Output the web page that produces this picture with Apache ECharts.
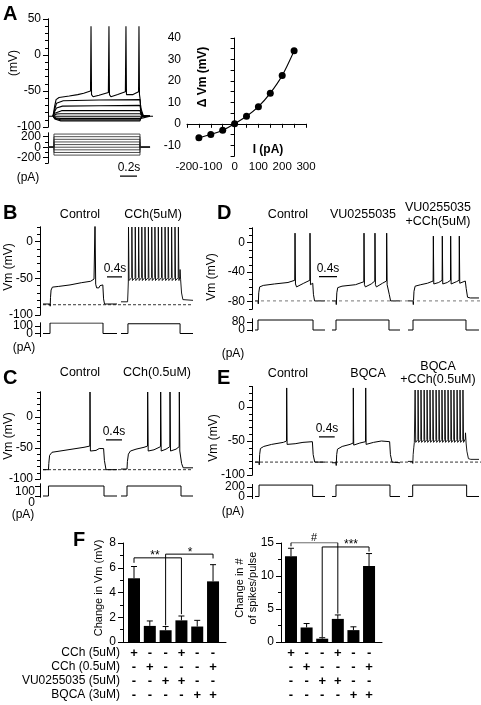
<!DOCTYPE html>
<html><head><meta charset="utf-8">
<script src="https://cdn.jsdelivr.net/npm/echarts@6/dist/echarts.min.js"></script>
<style>html,body{margin:0;padding:0;background:#fff}#c{width:481px;height:705px}</style>
</head><body><div id="c"></div>
<script>
// ---------------- DATA ----------------
// Panel A: voltage family (time ms, mV)
const trA_m150 = [[59,-85],[70,-85],[80,-89],[100,-91],[150,-91.5],[1082,-91.5],[1092,-88],[1110,-85.5],[1200,-85]];
const trA_m100 = [[59,-85],[70,-85],[80,-88],[100,-89.5],[150,-90],[1082,-90],[1092,-87.5],[1110,-85.3],[1200,-85]];
const trA_m50  = [[59,-85],[70,-85],[80,-86.8],[100,-87.7],[150,-88],[1082,-88],[1092,-86.5],[1110,-85.2],[1200,-85]];
const trA_0    = [[0,-85],[1235,-85]];
const trA_p50  = [[59,-85],[70,-85],[80,-83],[100,-82],[150,-81.5],[1082,-81.5],[1092,-83.5],[1110,-84.7],[1200,-85]];
const trA_p100 = [[59,-85],[70,-85],[80,-81],[100,-78.5],[160,-77.3],[1082,-77],[1092,-81.5],[1115,-84.5],[1200,-85]];
const trA_p150 = [[59,-85],[70,-85],[80,-78],[100,-73.5],[170,-71],[600,-70.5],[1082,-70],[1092,-78],[1120,-84.3],[1200,-85]];
const trA_p200 = [[59,-85],[70,-85],[80,-75],[100,-67],[180,-63.5],[600,-62.5],[1082,-62],[1092,-74],[1120,-84],[1200,-85]];
const trA_p250 = [[59,-85],[70,-85],[80,-70],[95,-62],[130,-59],[250,-57],[350,-55],[420,-53],[500,-50],[506,40],[512,-55],[530,-58],[600,-56],[710,-52],[717,40],[723,-55],[740,-58],[820,-55],[910,-51],[917,40],[923,-55],[940,-57],[1000,-55],[1065,-51],[1070,40],[1076,-55],[1082,-60],[1095,-80],[1110,-85],[1200,-85]];
const ampA = [-150,-100,-50,0,50,100,150,200,250];      // pA steps
const stepA = [70,1082,1200];                             // on, off, end (ms)
// IV curve
const ivCurrent = [-150,-100,-50,0,50,100,150,200,250];
const ivDelta   = [-6.5,-5,-3,0,3.5,8,14.3,22.5,34];

// Panel B
const trB_ctrl = [[80,-85],[265,-85],[272,-88],[280,-76],[295,-66],[330,-62],[500,-61],[800,-59],[1100,-56],[1350,-54],[1440,-51],[1467,26],[1485,-58],[1510,-63],[1570,-63],[1600,-60],[1640,-58],[1675,-59],[1695,-78],[1720,-85],[2053,-85]];
const trB_cch = [[2160,-82],[2335,-82],[2345,-70],[2355,-55],[2360,20],[2375,-53],[2445,-49],[2450,20],[2465,-53],[2535,-49],[2540,20],[2555,-53],[2625,-49],[2630,20],[2645,-53],[2710,-49],[2715,20],[2730,-53],[2795,-49],[2800,20],[2815,-53],[2885,-49],[2890,20],[2905,-53],[2975,-49],[2980,20],[2995,-53],[3060,-49],[3065,20],[3080,-53],[3150,-49],[3155,20],[3170,-53],[3240,-49],[3245,20],[3260,-53],[3330,-49],[3335,20],[3350,-53],[3415,-49],[3420,20],[3435,-53],[3505,-49],[3510,20],[3525,-53],[3595,-49],[3600,20],[3615,-53],[3685,-49],[3690,20],[3705,-53],[3728,-48],[3735,-38],[3750,-52],[3775,-70],[3810,-79],[3860,-80],[4080,-80]];
const iB_ctrl = [[80,0],[267,0],[267,140],[1680,140],[1680,0],[2053,0]];
const iB_cch  = [[2160,0],[2345,0],[2345,130],[3735,130],[3735,0],[4080,0]];
const restB = [[80,-86],[4080,-86]];
const barB = [[1787,-48],[2187,-48]];

// Panel C
const trC_ctrl = [[75,-85],[212,-85],[220,-75],[240,-62],[300,-57],[500,-55],[800,-52],[1100,-49],[1245,-47],[1250,40],[1260,-55],[1290,-58],[1400,-54],[1480,-51],[1590,-51],[1610,-70],[1650,-85],[1925,-85]];
const trC_cch = [[2025,-84],[2175,-84],[2185,-72],[2210,-60],[2260,-55],[2400,-52],[2600,-49],[2688,-47],[2692,40],[2705,-55],[2730,-58],[2850,-53],[3012,-48],[3017,40],[3030,-55],[3055,-58],[3150,-52],[3246,-48],[3250,40],[3263,-55],[3290,-57],[3400,-52],[3479,-48],[3483,40],[3495,-55],[3520,-55],[3540,-75],[3580,-82],[3825,-82]];
const iC_ctrl = [[75,0],[212,0],[212,100],[1600,100],[1600,0],[1925,0]];
const iC_cch  = [[2025,0],[2175,0],[2175,100],[3525,100],[3525,0],[3825,0]];
const restC = [[75,-85],[3825,-85]];
const barC = [[1650,-37],[2050,-37]];

// Panel D
const trD_ctrl = [[67,-79],[133,-79],[140,-83],[150,-68],[170,-60],[250,-58],[500,-56],[800,-54],[950,-51],[956,13],[966,-56],[990,-60],[1150,-55],[1285,-51],[1289,13],[1299,-57],[1320,-58],[1350,-55],[1365,-70],[1390,-79],[1622,-79]];
const trD_vu = [[1778,-79],[1867,-79],[1873,-84],[1885,-68],[1905,-61],[2000,-59],[2300,-57],[2485,-53],[2489,13],[2499,-57],[2520,-60],[2650,-56],[2729,-52],[2733,13],[2743,-57],[2765,-60],[2900,-55],[2989,-52],[2993,13],[3003,-57],[3030,-57],[3050,-70],[3080,-79],[3289,-79]];
const trD_vucch = [[3467,-79],[3578,-79],[3585,-84],[3600,-66],[3625,-59],[3750,-57],[3900,-55],[4025,-52],[4030,9],[4040,-56],[4060,-58],[4150,-54],[4225,-51],[4229,9],[4239,-56],[4260,-58],[4340,-54],[4411,-51],[4415,9],[4425,-56],[4445,-57],[4540,-53],[4603,-51],[4607,9],[4617,-55],[4640,-55],[4740,-52],[4760,-62],[4790,-74],[4850,-75],[5044,-75]];
const iD_ctrl  = [[67,0],[133,0],[133,100],[1356,100],[1356,0],[1622,0]];
const iD_vu    = [[1778,0],[1867,0],[1867,100],[3044,100],[3044,0],[3289,0]];
const iD_vucch = [[3467,0],[3578,0],[3578,100],[4755,100],[4755,0],[5044,0]];
const restD = [[67,-79],[5089,-79]];
const barD = [[1489,-46],[1889,-46]];

// Panel E
const trE_ctrl = [[77,-81],[179,-81],[185,-85],[195,-70],[215,-61],[300,-58],[500,-55],[800,-52],[880,-50],[885,28],[895,-55],[920,-56],[1100,-54],[1300,-52],[1540,-51],[1560,-70],[1600,-81],[1862,-81]];
const trE_bqca = [[2040,-82],[2142,-82],[2148,-86],[2160,-70],[2180,-62],[2300,-58],[2500,-55],[2580,-53],[2584,28],[2594,-56],[2615,-57],[2750,-53],[2895,-51],[2900,28],[2910,-55],[2935,-56],[3100,-52],[3300,-50],[3510,-51],[3530,-70],[3570,-81],[3774,-82]];
const trE_bqcch = [[3978,-80],[4090,-80],[4100,-83],[4110,-70],[4125,-60],[4140,-52],[4160,25],[4175,-52],[4230,-48],[4235,25],[4250,-52],[4305,-48],[4310,25],[4325,-52],[4385,-48],[4390,25],[4405,-52],[4460,-48],[4465,25],[4480,-52],[4535,-48],[4540,25],[4555,-52],[4610,-48],[4615,25],[4630,-52],[4690,-48],[4695,25],[4710,-52],[4765,-48],[4770,25],[4785,-52],[4840,-48],[4845,25],[4860,-52],[4915,-48],[4920,25],[4935,-52],[4995,-48],[5000,25],[5015,-52],[5070,-48],[5075,25],[5090,-52],[5145,-48],[5150,25],[5165,-52],[5225,-48],[5230,25],[5245,-52],[5300,-48],[5305,25],[5320,-52],[5375,-48],[5380,25],[5395,-52],[5440,-47],[5445,-38],[5460,-53],[5480,-65],[5520,-76],[5580,-77],[5789,-77]];
const iE_ctrl  = [[77,0],[179,0],[179,240],[1548,240],[1548,0],[1862,0]];
const iE_bqca  = [[2040,0],[2142,0],[2142,240],[3519,240],[3519,0],[3774,0]];
const iE_bqcch = [[3978,0],[4098,0],[4098,240],[5474,240],[5474,0],[5789,0]];
const restE = [[77,-81],[5840,-81]];
const barE = [[1709,-44],[2109,-44]];
const barA = [[847,-550],[1047,-550]];

// Panel F
const vmMean  = [5.15,1.3,0.95,1.75,1.25,4.9];
const vmSem   = [0.95,0.4,0.3,0.35,0.5,1.35];
const spkMean = [13.0,2.2,0.5,3.5,1.8,11.5];
const spkSem  = [1.2,0.6,0.15,0.6,0.5,1.9];
const rowCCh5  = ['+','-','-','+','-','-'];
const rowCCh05 = ['-','+','-','-','-','+'];
const rowVU    = ['-','-','+','+','-','-'];
const rowBQCA  = ['-','-','-','-','+','+'];
const rowNames = ['CCh (5uM)','CCh (0.5uM)','VU0255035 (5uM)','BQCA (3uM)'];
const sigVm1 = [[1,6.4],[1,6.8],[4,6.8],[4,2.25]];
const sigVm2 = [[3,1.35],[3,7.1],[6,7.1],[6,6.75]];
const sigSp1 = [[1,14.5],[1,15.05],[4,15.05],[4,4.3]];
const sigSp2 = [[3,0.75],[3,14.4],[6,14.4],[6,13.7]];

// tick values
const tkA_Vmaj=[-100,-50,0,50], tkA_Vmin=[-100,-90,-80,-70,-60,-50,-40,-30,-20,-10,0,10,20,30,40,50];
const tkA_Imaj=[-200,0,200], tkA_Imin=[-300,-200,-100,0,100,200];
const tkIVx=[-200,-150,-100,-50,0,50,100,150,200,250,300], lbIVx=[-200,-100,0,100,200,300];
const tkIVy=[-15,-10,-5,0,5,10,15,20,25,30,35,40], lbIVy=[-10,0,10,20,30,40];
const tkB_Vmaj=[-100,-50,0], tkB_Vmin=[-100,-90,-80,-70,-60,-50,-40,-30,-20,-10,0,10,20];
const tkB_I=[0,100];
const tkC_Vmaj=[-100,-50,0], tkC_Vmin=[-100,-90,-80,-70,-60,-50,-40,-30,-20,-10,0,10,20,30,40];
const tkC_I=[0,100];
const tkD_Vmaj=[-80,-40,0], tkD_Vmin=[-90,-80,-70,-60,-50,-40,-30,-20,-10,0,10,20];
const tkD_I=[0,80];
const tkE_Vmaj=[-100,-50,0], tkE_Vmin=[-100,-90,-80,-70,-60,-50,-40,-30,-20,-10,0,10,20,30];
const tkE_I=[0,200];

// ---------------- BUILD ----------------
const FF = '"Liberation Sans", Arial, Helvetica, sans-serif';
const grids=[], xAxes=[], yAxes=[], series=[], graphic=[];
const AX = {color:'#000', width:1};
const LBL = {fontSize:12,color:'#000',fontFamily:FF,showMinLabel:true,showMaxLabel:true,hideOverlap:false};
function grid(l,t,w,h){grids.push({left:l,top:t,width:w,height:h,containLabel:false});return grids.length-1;}
function xAx(g,min,max,o){xAxes.push(Object.assign({gridIndex:g,type:'value',min,max,show:false,splitLine:{show:false}},o||{}));return xAxes.length-1;}
function yAx(g,min,max,o){yAxes.push(Object.assign({gridIndex:g,type:'value',min,max,position:'left',
  axisLine:{show:true,onZero:false,lineStyle:AX},axisTick:{show:false},axisLabel:{show:false},splitLine:{show:false}},o||{}));return yAxes.length-1;}
// minor-tick axis + major-tick axis; labels either on the major axis or one overlaid axis per label (crowded axes)
function ticked(g,min,max,minor,major,labelMode){
  yAx(g,min,max,{axisTick:{show:true,customValues:minor,length:3,lineStyle:AX}});
  const main=yAx(g,min,max,{axisTick:{show:true,customValues:major,length:5,lineStyle:AX},
    axisLabel:Object.assign({},LBL,{show:labelMode===undefined,customValues:major,margin:7})});
  if(labelMode==='split') major.forEach(v=>yAx(g,min,max,{axisLine:{show:false,onZero:false},
    axisLabel:Object.assign({},LBL,{show:true,customValues:[v],margin:7})}));
  return main;
}
function ln(xi,yi,data,o){series.push(Object.assign({type:'line',xAxisIndex:xi,yAxisIndex:yi,data,symbol:'none',
  lineStyle:{color:'#000',width:1},silent:true,animation:false,z:3},o||{}));}
function txt(x,y,text,size,o){o=o||{};graphic.push({type:'text',x,y,rotation:o.rot?Math.PI/2:0,silent:true,
  style:{text,fill:'#000',fontSize:size,fontFamily:FF,fontWeight:o.bold?'bold':'normal',
  align:o.align||'center',verticalAlign:'middle',lineHeight:o.lh||size}});}

// A voltage
let g=grid(48,19,105,108); let xi=xAx(g,0,1235); let yi=ticked(g,-100,50,tkA_Vmin,tkA_Vmaj);
[trA_m150,trA_m100,trA_m50,trA_0,trA_p50,trA_p100,trA_p150,trA_p200,trA_p250].forEach(d=>ln(xi,yi,d,{lineStyle:{color:'#000',width:1.1}}));
// A current
g=grid(48,133,105,30); xi=xAx(g,0,1235); yi=ticked(g,-300,270,tkA_Imin,tkA_Imaj,'split');
ampA.forEach(a=>ln(xi,yi,[[0,0],[stepA[0],0],[stepA[0],a],[stepA[1],a],[stepA[1],0],[stepA[2],0]],{lineStyle:{color:'#222',width:0.8}}));
ln(xi,yi,barA,{clip:false,lineStyle:{color:'#000',width:1.3}});
// IV
g=grid(187,38,119,118);
xi=xAx(g,-200,300,{show:true,axisLine:{show:true,onZero:true,lineStyle:AX},axisTick:{show:true,customValues:tkIVx,length:4,lineStyle:AX},
  axisLabel:Object.assign({},LBL,{show:true,customValues:lbIVx,margin:5,fontSize:11.5})});
yi=yAx(g,-15,40,{axisLine:{show:true,onZero:true,lineStyle:AX},axisTick:{show:true,customValues:tkIVy,length:4,lineStyle:AX},
  axisLabel:Object.assign({},LBL,{show:true,customValues:lbIVy,margin:6,lineHeight:8})});
ln(xi,yi,ivCurrent.map((c,i)=>[c,ivDelta[i]]),{symbol:'circle',symbolSize:7,smooth:0.3,itemStyle:{color:'#000'},lineStyle:{color:'#000',width:1.2}});

// B
g=grid(40,227,153,88); xi=xAx(g,0,4080); yi=ticked(g,-100,20,tkB_Vmin,tkB_Vmaj);
ln(xi,yi,trB_ctrl); ln(xi,yi,trB_cch,{lineStyle:{color:'#000',width:0.9}});
ln(xi,yi,restB,{lineStyle:{color:'#000',width:0.8,type:[3,2]}});
ln(xi,yi,barB,{lineStyle:{color:'#000',width:1.3}});
g=grid(40,323,153,13.5); xi=xAx(g,0,4080); yi=ticked(g,-40,140,tkB_I,tkB_I,'split');
ln(xi,yi,iB_ctrl); ln(xi,yi,iB_cch);
// C
g=grid(40,392,153,87); xi=xAx(g,0,3825); yi=ticked(g,-100,40,tkC_Vmin,tkC_Vmaj);
ln(xi,yi,trC_ctrl); ln(xi,yi,trC_cch);
ln(xi,yi,restC,{lineStyle:{color:'#000',width:0.8,type:[3,2]}});
ln(xi,yi,barC,{lineStyle:{color:'#000',width:1.3}});
g=grid(40,484,153,13); xi=xAx(g,0,3825); yi=ticked(g,-10,120,tkC_I,tkC_I,'none');
ln(xi,yi,iC_ctrl); ln(xi,yi,iC_cch);
// D
g=grid(252,228,229,81); xi=xAx(g,0,5089); yi=ticked(g,-90,20,tkD_Vmin,tkD_Vmaj);
ln(xi,yi,trD_ctrl); ln(xi,yi,trD_vu); ln(xi,yi,trD_vucch);
ln(xi,yi,restD,{lineStyle:{color:'#777',width:1,type:[3,3]}});
ln(xi,yi,barD,{lineStyle:{color:'#000',width:1.3}});
g=grid(252,319,229,12); xi=xAx(g,0,5089); yi=ticked(g,-10,110,tkD_I,tkD_I,'split');
ln(xi,yi,iD_ctrl); ln(xi,yi,iD_vu); ln(xi,yi,iD_vucch);
// E
g=grid(252,386.6,229,88.4); xi=xAx(g,0,5840); yi=ticked(g,-100,30,tkE_Vmin,tkE_Vmaj);
ln(xi,yi,trE_ctrl); ln(xi,yi,trE_bqca); ln(xi,yi,trE_bqcch,{lineStyle:{color:'#000',width:0.9}});
ln(xi,yi,restE,{lineStyle:{color:'#000',width:0.8,type:[3,2]}});
ln(xi,yi,barE,{lineStyle:{color:'#000',width:1.3}});
g=grid(252,484.6,229,13.8); xi=xAx(g,0,5840); yi=ticked(g,-40,250,tkE_I,tkE_I,'split');
ln(xi,yi,iE_ctrl); ln(xi,yi,iE_bqca); ln(xi,yi,iE_bqcch);

// F bar charts
function barChart(l,w,xmin,xmax,ymax,interval,minorSplit,mean,sem,sigs){
  const gg=grid(l,543,w,99);
  const xx=xAx(gg,xmin,xmax,{show:true,axisLine:{show:true,onZero:false,lineStyle:AX},axisTick:{show:false},
    axisLabel:Object.assign({},LBL,{show:true,customValues:[1,2,3,4,5,6],margin:4,fontSize:13,fontWeight:'bold',lineHeight:14,
      formatter:v=>{const i=Math.round(v)-1;return [rowCCh5[i],rowCCh05[i],rowVU[i],rowBQCA[i]].join('\n');}})});
  const yy=yAx(gg,0,ymax,{interval,axisTick:{show:true,length:5,lineStyle:AX},
    minorTick:{show:true,splitNumber:minorSplit,length:3,lineStyle:AX},
    axisLabel:Object.assign({show:true,margin:7},LBL)});
  series.push({type:'bar',xAxisIndex:xx,yAxisIndex:yy,barWidth:12,itemStyle:{color:'#000'},silent:true,animation:false,
    data:mean.map((m,i)=>[i+1,m])});
  series.push({type:'custom',xAxisIndex:xx,yAxisIndex:yy,silent:true,animation:false,z:4,encode:{x:0,y:[1,2]},
    data:mean.map((m,i)=>[i+1,m,m+sem[i]]),
    renderItem:(p,api)=>{const a=api.coord([api.value(0),api.value(2)]);const b=api.coord([api.value(0),api.value(1)]);
      return {type:'group',children:[
        {type:'line',shape:{x1:a[0],y1:a[1],x2:b[0],y2:b[1]},style:{stroke:'#000',lineWidth:1}},
        {type:'line',shape:{x1:a[0]-3,y1:a[1],x2:a[0]+3,y2:a[1]},style:{stroke:'#000',lineWidth:1}}]};}});
  sigs.forEach(s=>ln(xx,yy,s,{lineStyle:{color:'#000',width:1}}));
}
barChart(123,103,0.304,6.82,8,2,2,vmMean,vmSem,[sigVm1,sigVm2]);
barChart(281,101,0.36,6.83,15,5,2,spkMean,spkSem,[sigSp1,sigSp2]);

// ---------------- TEXT ----------------
const B={bold:true}, R={rot:true}, LB={bold:true,align:'left'};
txt(3,14,'A',20,LB); txt(14,63,'(mV)',12,R); txt(28,178,'(pA)',12); txt(129,168,'0.2s',12);
txt(203,77,'Δ Vm (mV)',12,{bold:true,rot:true}); txt(268,150,'I (pA)',12,B);
txt(3,213,'B',20,LB); txt(80,215,'Control',12.5); txt(153,215,'CCh(5uM)',12.5);
txt(9,267,'Vm (mV)',12,R); txt(115,269,'0.4s',12); txt(24,348,'(pA)',12);
txt(3,378,'C',20,LB); txt(80,373,'Control',12.5); txt(157,373,'CCh(0.5uM)',12.5);
txt(9,436,'Vm (mV)',12,R); txt(114,432,'0.4s',12);
txt(35,492,'100',12,{align:'right'}); txt(35,503,'0',12,{align:'right'}); txt(23,515,'(pA)',12);
txt(217,213,'D',20,LB); txt(288,215,'Control',12.5); txt(363,215,'VU0255035',12.5);
txt(438,208,'VU0255035',12.5); txt(438,222,'+CCh(5uM)',12.5);
txt(212,277,'Vm (mV)',12,R); txt(328,269,'0.4s',12); txt(233,354,'(pA)',12);
txt(217,378,'E',20,LB); txt(288,374,'Control',12.5); txt(368,374,'BQCA',12.5);
txt(438,367,'BQCA',12.5); txt(438,380,'+CCh(0.5uM)',12.5);
txt(214,438,'Vm (mV)',12,R); txt(327,429,'0.4s',12); txt(233,512,'(pA)',12);
txt(73,540,'F',20,LB);
txt(155,556,'**',12); txt(190,553,'*',12); txt(314,538,'#',11); txt(351,545,'***',12);
rowNames.forEach((n,i)=>txt(120,653+14*i,n,12,{align:'right'}));
txt(99,588,'Change in Vm (mV)',11,R);
txt(246,588,'Change in #\nof spikes/pulse',11,{rot:true,lh:13});

const chart = echarts.init(document.getElementById('c'),null,{renderer:'canvas'});
chart.setOption({animation:false,backgroundColor:'#fff',grid:grids,xAxis:xAxes,yAxis:yAxes,series,graphic});
</script></body></html>
